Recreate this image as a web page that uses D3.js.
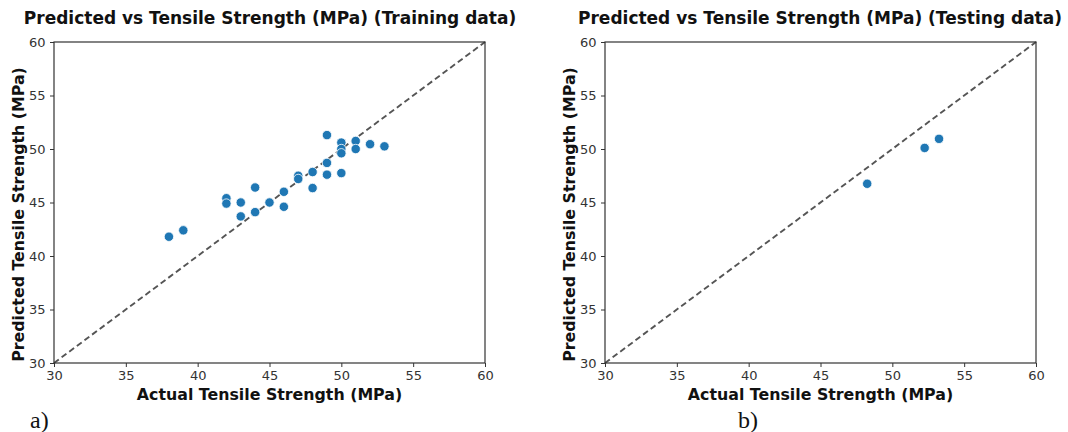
<!DOCTYPE html>
<html>
<head>
<meta charset="utf-8">
<script src="https://cdn.jsdelivr.net/npm/d3@7"></script>
<style>
  body { margin: 0; background: #fff; }
  text { font-family: "DejaVu Sans", sans-serif; }
</style>
</head>
<body>
<div id="chart"></div>
<script>
// Training data: actual vs predicted tensile strength (MPa)
var trainActual = [38, 39, 42, 42, 43, 43, 44, 44, 45, 46, 46, 47, 47, 48, 48, 49, 49, 49, 50, 50, 50, 50, 51, 51, 52, 53];
var trainPredicted = [41.8, 42.4, 45.4, 44.9, 45.0, 43.7, 46.4, 44.1, 45.0, 46.0, 44.6, 47.5, 47.2, 47.85, 46.35, 51.3, 48.7, 47.6, 50.6, 50.0, 49.6, 47.75, 50.75, 50.0, 50.45, 50.25];

// Testing data
var testActual = [48.25, 52.25, 53.25];
var testPredicted = [46.75, 50.1, 50.95];

var tickValues = [30, 35, 40, 45, 50, 55, 60];
var axisRange = [30, 60];

var w = 1068, h = 432;
var svg = d3.select("#chart").append("svg")
    .attr("width", w)
    .attr("height", h);

function drawPanel(cfg) {
    var xScale = d3.scaleLinear().domain(axisRange).range([cfg.left, cfg.right]);
    var yScale = d3.scaleLinear().domain(axisRange).range([cfg.bottom, cfg.top]);
    var g = svg.append("g");

    // title
    g.append("text")
        .attr("x", cfg.titleX)
        .attr("y", 24)
        .attr("text-anchor", "middle")
        .attr("font-weight", "bold")
        .attr("font-size", 17)
        .attr("fill", "#111")
        .text(cfg.title);

    // 1:1 reference line
    g.append("line")
        .attr("x1", xScale(30)).attr("y1", yScale(30))
        .attr("x2", xScale(60)).attr("y2", yScale(60))
        .attr("stroke", "#555")
        .attr("stroke-width", 1.9)
        .attr("stroke-dasharray", "6,3.5");

    // points
    var pts = cfg.actual.map(function (a, i) { return { x: a, y: cfg.predicted[i] }; });
    g.selectAll("circle").data(pts).enter().append("circle")
        .attr("cx", d => xScale(d.x))
        .attr("cy", d => yScale(d.y))
        .attr("r", 4.7)
        .attr("fill", "#1f77b4")
        .attr("stroke", "#fff")
        .attr("stroke-width", 0.8);

    // axes
    var xAxis = g.append("g")
        .attr("transform", "translate(0," + cfg.bottom + ")")
        .call(d3.axisBottom(xScale).tickValues(tickValues).tickSize(4).tickPadding(4).tickSizeOuter(0));
    var yAxis = g.append("g")
        .attr("transform", "translate(" + cfg.left + ",0)")
        .call(d3.axisLeft(yScale).tickValues(tickValues).tickSize(4).tickPadding(4.5).tickSizeOuter(0));
    [xAxis, yAxis].forEach(function (ax) {
        ax.select(".domain").remove();
        ax.selectAll("line").attr("stroke", "#333");
        ax.selectAll("text").attr("font-size", 13).attr("fill", "#333");
    });

    // frame
    g.append("rect")
        .attr("x", cfg.left).attr("y", cfg.top)
        .attr("width", cfg.right - cfg.left)
        .attr("height", cfg.bottom - cfg.top)
        .attr("fill", "none")
        .attr("stroke", "#333")
        .attr("stroke-width", 1.2);

    // axis labels
    g.append("text")
        .attr("x", (cfg.left + cfg.right) / 2)
        .attr("y", 400)
        .attr("text-anchor", "middle")
        .attr("font-weight", "bold")
        .attr("font-size", 15.8)
        .attr("fill", "#111")
        .text("Actual Tensile Strength (MPa)");
    g.append("text")
        .attr("transform", "translate(" + cfg.yLabelX + "," + ((cfg.top + cfg.bottom) / 2 + 12) + ") rotate(-90)")
        .attr("text-anchor", "middle")
        .attr("font-weight", "bold")
        .attr("font-size", 15.8)
        .attr("fill", "#111")
        .text("Predicted Tensile Strength (MPa)");

    // panel tag
    g.append("text")
        .attr("x", cfg.tagX)
        .attr("y", 428)
        .attr("font-size", 24)
        .attr("fill", "#111")
        .style("font-family", "'Liberation Serif', serif")
        .text(cfg.tag);
}

drawPanel({
    left: 54, right: 485, top: 42, bottom: 363,
    titleX: 270, yLabelX: 24,
    title: "Predicted vs Tensile Strength (MPa) (Training data)",
    actual: trainActual, predicted: trainPredicted,
    tag: "a)", tagX: 30
});

drawPanel({
    left: 605, right: 1036, top: 42, bottom: 363,
    titleX: 820, yLabelX: 575,
    title: "Predicted vs Tensile Strength (MPa) (Testing data)",
    actual: testActual, predicted: testPredicted,
    tag: "b)", tagX: 738
});
</script>
</body>
</html>
